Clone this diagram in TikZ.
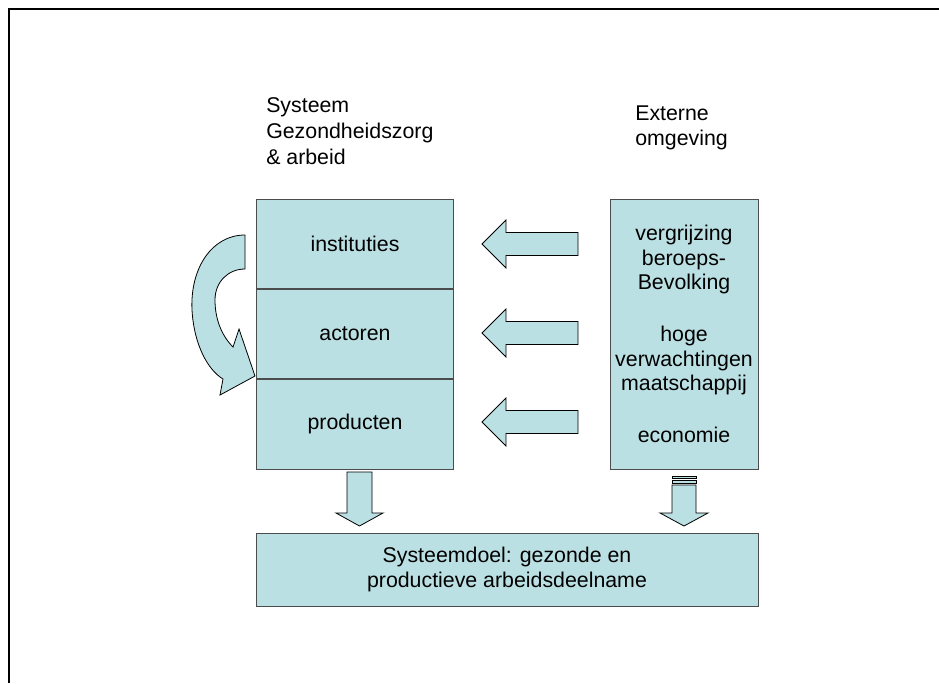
\documentclass[tikz,border=0pt]{standalone}
\usepackage{fontspec}
\setmainfont{Liberation Sans}
\usetikzlibrary{positioning}
\definecolor{lichtblauw}{HTML}{BBE0E3}

\begin{document}
\begin{tikzpicture}[x=0.75pt,y=-0.75pt,
  laag/.style={draw=black!70,fill=lichtblauw,line width=0.75pt,minimum width=148pt,minimum height=67pt,inner sep=0pt,font=\fontsize{16}{19}\selectfont},
  kop/.style={align=left,inner sep=0pt,anchor=north west},
  blok/.style={draw=black,fill=lichtblauw,line width=0.6pt,line join=miter}]
\useasboundingbox (0,0) rectangle (939,683);
\fill[white] (0,0) rectangle (939,683);
\draw[line width=1pt] (9,683) -- (9,9) -- (939,9);

% koppen
\node [kop,font=\fontsize{16}{19.5}\selectfont] (sys) at (266,97) {Systeem\\Gezondheidszorg\\\& arbeid};
\node [kop,font=\fontsize{16}{18.75}\selectfont] (ext) at (635,106) {Externe\\omgeving};

% systeem
\node [laag] (inst) at (355,243.7) {instituties};
\node [laag, below=0pt of inst] (act) {actoren};
\node [laag, below=0pt of act] (prod) {producten};

% externe omgeving
\node [draw=black!70,fill=lichtblauw,line width=0.75pt,minimum width=111pt,minimum height=202.5pt,inner sep=0pt,align=center,font=\fontsize{16}{18.4}\selectfont] (omg) at (684,334)
  {vergrijzing\\beroeps-\\Bevolking\\[20.6pt]hoge\\verwachtingen\\maatschappij\\[20.6pt]economie};

% doel
\node [draw=black!70,fill=lichtblauw,line width=0.75pt,minimum width=376.5pt,minimum height=54.75pt,inner sep=0pt,align=center,font=\fontsize{16}{18.75}\selectfont] (doel) at (507,569.5)
  {Systeemdoel: gezonde en\\productieve arbeidsdeelname};

% pijlen naar links
\foreach \y in {244,333,422}
  \draw[blok] (482,\y) -- (506,\y-24) -- (506,\y-11.5) -- (578,\y-11.5)
    -- (578,\y+11.5) -- (506,\y+11.5) -- (506,\y+24) -- cycle;

% pijlen naar beneden
\draw[blok] (347,472) -- (372,472) -- (372,513) -- (383,513) -- (359.5,526)
  -- (336,513) -- (347,513) -- cycle;
\draw[blok] (672,476) rectangle (696,478);
\draw[blok] (672,480) rectangle (696,483);
\draw[blok] (672,485) -- (696,485) -- (696,513) -- (708,513) -- (684,526)
  -- (660,513) -- (672,513) -- cycle;

% kromme pijl
\draw[blok] (245,235) .. controls (212,235) and (190,268) .. (192,310)
  .. controls (194,345) and (208,370) .. (223,379) -- (220,395) -- (255,376)
  -- (239,329) -- (233,347) .. controls (221,335) and (215,318) .. (215,300)
  .. controls (215,282) and (228,269) .. (245,269) -- cycle;
\end{tikzpicture}
\end{document}
